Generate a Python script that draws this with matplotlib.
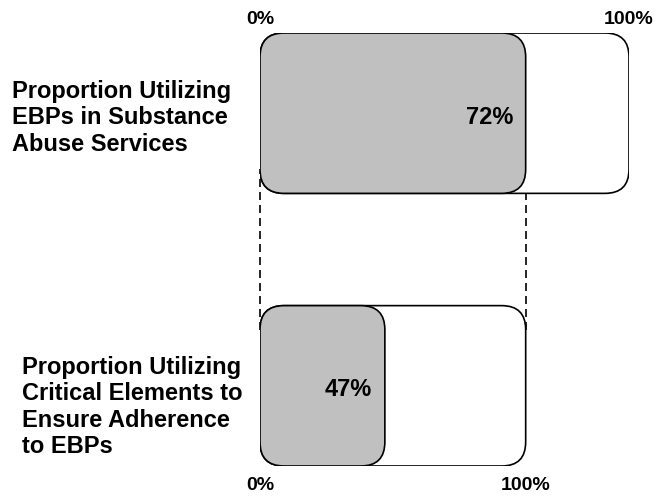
import matplotlib.pyplot as plt
from matplotlib.patches import FancyBboxPatch

# data
labels = ['Proportion Utilizing\nEBPs in Substance\nAbuse Services',
          'Proportion Utilizing\nCritical Elements to\nEnsure Adherence\nto EBPs']
values = [72, 47]          # percent of the bar above
tick_labels = ['0%', '100%']

plt.rcParams['font.family'] = ['Liberation Sans', 'DejaVu Sans']
plt.rcParams['font.weight'] = 'bold'

fig = plt.figure(figsize=(6.55, 4.96), dpi=100)
ax = fig.add_axes([260 / 655, 30 / 496, 369 / 655, 433 / 496])
ax.set_xlim(0, 100)
ax.set_ylim(-0.5, 2.2)
ax.axis('off')

# rounding radius must look round even though x/y scales differ
px_x = 369 / 100
px_y = 433 / 2.7
aspect = px_x / px_y
r = 24 / px_x

ypos = [1.7, 0.0]
h = 1.0
lw = 1.2

# the whole of the top bar is 100%, the bottom bar's 100% = top bar's value
full = [100, values[0]]
filled = [values[0], values[0] * values[1] / 100]

for y, f, v, pct in zip(ypos, full, filled, values):
    outer = FancyBboxPatch((0, y - h / 2), f, h,
                           boxstyle=f'round,pad=0,rounding_size={r}',
                           mutation_aspect=aspect, fc='white', ec='black',
                           lw=lw, zorder=2)
    ax.add_patch(outer)
    inner = FancyBboxPatch((0, y - h / 2), v, h,
                           boxstyle=f'round,pad=0,rounding_size={r}',
                           mutation_aspect=aspect, fc='#c0c0c0', ec='black',
                           lw=lw, zorder=3)
    ax.add_patch(inner)
    ax.annotate(f'{pct}%', (v, y), xytext=(-9, -3), textcoords='offset points',
                ha='right', va='center', fontsize=17, fontweight='bold',
                zorder=4)

# dashed connectors between the two bars
for x in [0, values[0]]:
    ax.plot([x, x], [ypos[1] + 0.35, ypos[0] - 0.35], color='black', lw=1.2,
            ls=(0, (4.8, 3)), zorder=1, clip_on=False)

# scale labels
ax.text(0, 2.2 + 14 / px_y, tick_labels[0], ha='center', va='center', fontsize=14)
ax.text(100, 2.2 + 14 / px_y, tick_labels[1], ha='center', va='center', fontsize=14)
ax.text(0, -0.5 - 19 / px_y, tick_labels[0], ha='center', va='center', fontsize=14)
ax.text(values[0], -0.5 - 19 / px_y, tick_labels[1], ha='center', va='center', fontsize=14)

# row labels
fig.text(12 / 655, 1 - 118 / 496, labels[0], ha='left', va='center',
         fontsize=17, fontweight='bold', linespacing=1.18)
fig.text(22 / 655, 1 - 407 / 496, labels[1], ha='left', va='center',
         fontsize=17, fontweight='bold', linespacing=1.18)

fig.savefig('out.png', dpi=100)
